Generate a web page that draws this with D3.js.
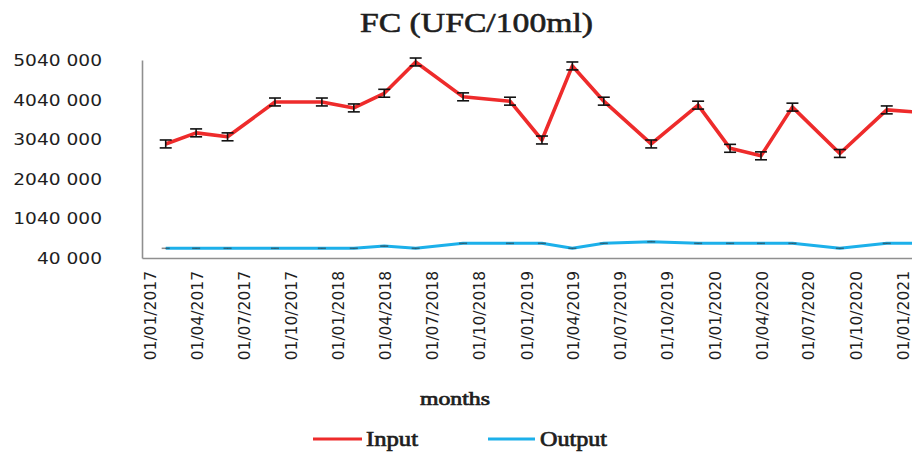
<!DOCTYPE html>
<html>
<head>
<meta charset="utf-8">
<script src="https://cdn.jsdelivr.net/npm/d3@7"></script>
<style>
  html, body { margin: 0; padding: 0; background: #fff; }
  svg { display: block; }
</style>
</head>
<body>
<svg id="chart" width="912" height="452"></svg>
<script>
// ---- data ----
const dates = ["2017-01-31","2017-03-31","2017-05-31","2017-08-31","2017-11-30",
               "2018-01-31","2018-03-31","2018-05-31","2018-08-31","2018-11-30",
               "2019-01-31","2019-03-31","2019-05-31","2019-08-31","2019-11-30",
               "2020-01-31","2020-03-31","2020-05-31","2020-08-31","2020-11-30",
               "2021-01-31"];
const inputValues = [2920000, 3200000, 3100000, 3980000, 3980000,
                     3830000, 4200000, 4990000, 4110000, 4000000,
                     3020000, 4890000, 4000000, 2920000, 3900000,
                     2810000, 2620000, 3850000, 2680000, 3780000,
                     3720000];
const inputErrors = [100000, 100000, 100000, 100000, 100000,
                     100000, 100000, 100000, 100000, 100000,
                     100000, 100000, 100000, 100000, 100000,
                     100000, 100000, 100000, 100000, 100000,
                     100000];
const outputValues = [285000, 285000, 285000, 285000, 285000,
                      285000, 340000, 285000, 410000, 410000,
                      410000, 285000, 410000, 450000, 410000,
                      410000, 410000, 410000, 285000, 410000,
                      410000];
const outputErrors = dates.map(() => 8000);
const xTickDates = ["2017-01-01","2017-04-01","2017-07-01","2017-10-01",
                    "2018-01-01","2018-04-01","2018-07-01","2018-10-01",
                    "2019-01-01","2019-04-01","2019-07-01","2019-10-01",
                    "2020-01-01","2020-04-01","2020-07-01","2020-10-01",
                    "2021-01-01"];
const xTickLabels = ["01/01/2017","01/04/2017","01/07/2017","01/10/2017",
                     "01/01/2018","01/04/2018","01/07/2018","01/10/2018",
                     "01/01/2019","01/04/2019","01/07/2019","01/10/2019",
                     "01/01/2020","01/04/2020","01/07/2020","01/10/2020",
                     "01/01/2021"];
const yTicks = [40000, 1040000, 2040000, 3040000, 4040000, 5040000];
const yTickLabels = ["40 000", "1040 000", "2040 000", "3040 000", "4040 000", "5040 000"];
const seriesNames = ["Input", "Output"];
const seriesColors = ["#ee2b2b", "#1cb0ea"];
const titleText = "FC (UFC/100ml)";
const xTitle = "months";

// ---- layout ----
const parse = d3.utcParse("%Y-%m-%d");
const svg = d3.select("#chart");
const plot = { left: 142, right: 912, top: 60, bottom: 258 };

const x = d3.scaleUtc()
  .domain([parse("2016-12-16"), parse("2021-01-18")])
  .range([plot.left, plot.right]);
const y = d3.scaleLinear()
  .domain([40000, 5040000])
  .range([plot.bottom, plot.top]);

const textColor = "#1e1e1e";
const axisColor = "#8f8f8f";
const serif = "'Liberation Serif', 'Times New Roman', serif";

// title
svg.append("text")
  .attr("x", 476.5).attr("y", 31.5)
  .attr("text-anchor", "middle")
  .attr("font-family", serif)
  .attr("font-size", 28)
  .attr("fill", textColor).attr("stroke", textColor).attr("stroke-width", 0.6)
  .attr("textLength", 233).attr("lengthAdjust", "spacingAndGlyphs")
  .text(titleText);

// y axis
const yAxis = svg.append("g")
  .attr("transform", `translate(${plot.left},0)`)
  .call(d3.axisLeft(y).tickValues(yTicks)
        .tickFormat((d, i) => yTickLabels[i]).tickSize(0).tickPadding(40));
yAxis.select(".domain").attr("stroke", axisColor).attr("stroke-width", 1.6);
yAxis.selectAll("text")
  .attr("font-family", "'DejaVu Sans', Verdana, sans-serif")
  .attr("font-size", 15)
  .attr("fill", textColor)
  .attr("dy", "0.36em")
  .each(function() {
    const len = this.getComputedTextLength();
    d3.select(this).attr("textLength", len * 1.24).attr("lengthAdjust", "spacingAndGlyphs");
  });

// x axis
const xAxis = svg.append("g")
  .attr("transform", `translate(0,${plot.bottom})`)
  .call(d3.axisBottom(x).tickValues(xTickDates.map(parse))
        .tickFormat((d, i) => xTickLabels[i]).tickSize(0).tickSizeOuter(0));
xAxis.select(".domain").attr("stroke", axisColor).attr("stroke-width", 1.6);
xAxis.selectAll(".tick text")
  .attr("font-family", "'DejaVu Sans', Verdana, sans-serif")
  .attr("font-size", 15.5)
  .attr("fill", textColor)
  .attr("text-anchor", "end")
  .attr("x", 0).attr("y", 0).attr("dy", "0.36em")
  .attr("transform", "translate(0,13) rotate(-90)");

// x title
svg.append("text")
  .attr("x", 455).attr("y", 405)
  .attr("text-anchor", "middle")
  .attr("font-family", serif)
  .attr("font-size", 18)
  .attr("fill", textColor).attr("stroke", textColor).attr("stroke-width", 0.7)
  .attr("textLength", 70).attr("lengthAdjust", "spacingAndGlyphs")
  .text(xTitle);

// clip
svg.append("clipPath").attr("id", "plotclip")
  .append("rect").attr("x", plot.left).attr("y", 0)
  .attr("width", plot.right - plot.left).attr("height", plot.bottom);

const g = svg.append("g").attr("clip-path", "url(#plotclip)");

const seriesData = [
  dates.map((d, i) => ({ date: parse(d), v: inputValues[i], e: inputErrors[i] })),
  dates.map((d, i) => ({ date: parse(d), v: outputValues[i], e: outputErrors[i] }))
];
const line = d3.line().x(d => x(d.date)).y(d => y(d.v));

// output first, then input
[1, 0].forEach(si => {
  g.append("path")
    .datum(seriesData[si])
    .attr("fill", "none")
    .attr("stroke", seriesColors[si])
    .attr("stroke-width", si === 0 ? 3.6 : 3)
    .attr("stroke-linejoin", "round")
    .attr("d", line);
});

// error bars
[1, 0].forEach(si => {
  const eb = g.append("g").attr("stroke", si === 0 ? "#111" : "#333")
    .attr("stroke-width", si === 0 ? 1.6 : 0.8)
    .attr("stroke-opacity", si === 0 ? 1 : 0.6);
  const hw = si === 0 ? 6 : 4;
  seriesData[si].forEach(d => {
    const cx = x(d.date), y1 = y(d.v + d.e), y2 = y(d.v - d.e);
    eb.append("line").attr("x1", cx).attr("x2", cx).attr("y1", y1).attr("y2", y2);
    eb.append("line").attr("x1", cx - hw).attr("x2", cx + hw).attr("y1", y1).attr("y2", y1);
    eb.append("line").attr("x1", cx - hw).attr("x2", cx + hw).attr("y1", y2).attr("y2", y2);
  });
});

// legend
const legendItems = [
  { x1: 313, x2: 362, tx: 366, tl: 52 },
  { x1: 488, x2: 535, tx: 540, tl: 67 }
];
legendItems.forEach((it, i) => {
  svg.append("line")
    .attr("x1", it.x1).attr("x2", it.x2).attr("y1", 439).attr("y2", 439)
    .attr("stroke", seriesColors[i]).attr("stroke-width", 3.2);
  svg.append("text")
    .attr("x", it.tx).attr("y", 445.5)
    .attr("font-family", serif)
    .attr("font-size", 20)
    .attr("fill", textColor).attr("stroke", textColor).attr("stroke-width", 0.7)
    .attr("textLength", it.tl).attr("lengthAdjust", "spacingAndGlyphs")
    .text(seriesNames[i]);
});
</script>
</body>
</html>
